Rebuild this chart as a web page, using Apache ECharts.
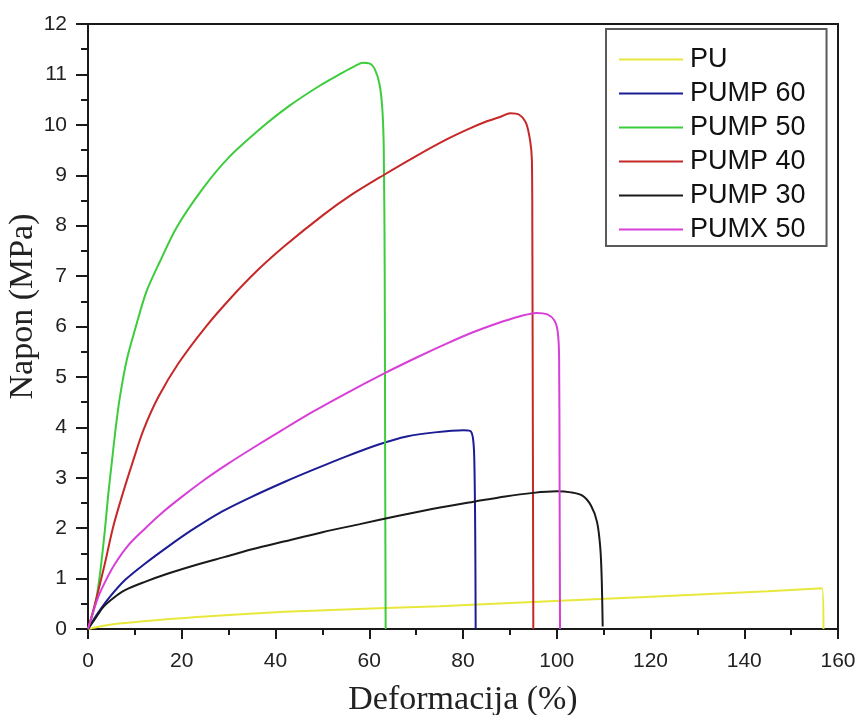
<!DOCTYPE html>
<html>
<head>
<meta charset="utf-8">
<script src="https://cdn.jsdelivr.net/npm/echarts@6/dist/echarts.min.js"></script>
<style>
  html, body { margin: 0; padding: 0; background: #ffffff; }
  #chart { width: 859px; height: 715px; }
</style>
</head>
<body>
<div id="chart"></div>
<script>
// Stress–strain curves: strain (%) and stress (MPa) for each sample
const seriesNames = ['PU', 'PUMP 60', 'PUMP 50', 'PUMP 40', 'PUMP 30', 'PUMX 50'];

const strainPU = [0, 3, 6.5, 15, 25, 42, 62, 75, 100.7, 117.8, 129.2, 145, 156.6, 156.9];
const stressPU = [0, 0.06, 0.11, 0.18, 0.25, 0.34, 0.41, 0.45, 0.56, 0.63, 0.68, 0.75, 0.81, 0];

const strainPUMP60 = [0, 2, 4.7, 8, 12.2, 17, 22.1, 28, 34.9, 42, 48.1, 55, 62, 68, 74, 80.1, 81.5, 82.1, 82.4, 82.6, 82.7];
const stressPUMP60 = [0, 0.3, 0.64, 0.98, 1.3, 1.63, 1.96, 2.3, 2.62, 2.92, 3.16, 3.42, 3.66, 3.82, 3.9, 3.94, 3.93, 3.8, 3.4, 2, 0];

const strainPUMP50 = [0, 1, 1.85, 2.7, 3.6, 4.3, 5.05, 5.9, 6.8, 8.3, 10, 12.5, 15.4, 19, 24.6, 30, 37.5, 43, 49.5, 54, 57, 58.7, 60, 61.2, 62.2, 62.8, 63.1, 63.3, 63.4, 63.5];
const stressPUMP50 = [0, 0.3, 0.64, 1.2, 1.96, 2.65, 3.28, 3.98, 4.6, 5.35, 5.93, 6.7, 7.3, 7.98, 8.75, 9.35, 9.98, 10.38, 10.78, 11.02, 11.17, 11.23, 11.22, 11.1, 10.8, 10.3, 9.5, 7, 3, 0];

const strainPUMP40 = [0, 1.5, 3.6, 5.3, 7.2, 9.5, 11.8, 15, 19.3, 25, 30.7, 36, 42, 50, 56, 63, 70, 76.5, 81, 85.1, 88, 90.1, 92, 93.4, 94.3, 94.7, 94.8, 94.9, 95];
const stressPUMP40 = [0, 0.5, 1.3, 2.0, 2.62, 3.3, 3.94, 4.6, 5.27, 5.98, 6.59, 7.1, 7.6, 8.2, 8.6, 9.0, 9.38, 9.71, 9.91, 10.07, 10.16, 10.23, 10.2, 10.05, 9.7, 9.3, 7.6, 4, 0];

const strainPUMP30 = [0, 1.5, 3.3, 5.5, 7.9, 12, 17.1, 23, 29.2, 35, 42, 50, 58, 66, 75.1, 82.6, 89, 95, 100, 103, 105.4, 107.3, 108.6, 109.3, 109.6, 109.8];
const stressPUMP30 = [0, 0.2, 0.44, 0.62, 0.77, 0.93, 1.1, 1.27, 1.43, 1.58, 1.74, 1.92, 2.08, 2.24, 2.41, 2.53, 2.63, 2.7, 2.73, 2.71, 2.65, 2.45, 2.12, 1.6, 0.97, 0.05];

const strainPUMX50 = [0, 2.2, 4, 5.8, 8.5, 11.8, 16, 20, 25, 29.9, 35, 41.5, 48, 55, 63, 70, 76.5, 82, 87.2, 92, 95.7, 98, 99.5, 100.2, 100.5, 100.6, 100.7];
const stressPUMX50 = [0, 0.64, 1.0, 1.3, 1.65, 1.96, 2.32, 2.62, 2.97, 3.28, 3.58, 3.95, 4.31, 4.67, 5.06, 5.38, 5.66, 5.88, 6.06, 6.2, 6.27, 6.24, 6.12, 5.9, 5.4, 3, 0];

const xTicks = { min: 0, max: 160, interval: 20 };
const yTicks = { min: 0, max: 12, interval: 1 };

const curveColors = ['#e8e83c', '#1c1c94', '#3ccc3c', '#c62828', '#1a1a1a', '#d83fd8'];

function pairs(xs, ys) {
  return xs.map((x, i) => [x, ys[i]]);
}

const curveData = [
  pairs(strainPU, stressPU),
  pairs(strainPUMP60, stressPUMP60),
  pairs(strainPUMP50, stressPUMP50),
  pairs(strainPUMP40, stressPUMP40),
  pairs(strainPUMP30, stressPUMP30),
  pairs(strainPUMX50, stressPUMX50)
];

const sansFont = '"Liberation Sans", Arial, sans-serif';
const serifFont = '"Liberation Serif", "Times New Roman", serif';

const chart = echarts.init(document.getElementById('chart'), null, { renderer: 'canvas' });

chart.setOption({
  animation: false,
  backgroundColor: '#ffffff',
  grid: {
    left: 88, top: 24, right: 21, bottom: 86,
    outerBoundsMode: 'none',
    containLabel: false,
    show: true, borderColor: '#1a1a1a', borderWidth: 2,
    backgroundColor: 'transparent'
  },
  legend: {
    orient: 'vertical',
    left: 606, top: 29,
    padding: [17, 21, 3, 13],
    icon: 'rect',
    itemWidth: 64, itemHeight: 2, itemGap: 7,
    borderColor: '#5a5a5a', borderWidth: 2,
    textStyle: { fontFamily: sansFont, fontSize: 27, color: '#111', lineHeight: 24, padding: [0, 0, 0, 2] },
    data: seriesNames
  },
  xAxis: {
    type: 'value',
    min: xTicks.min, max: xTicks.max, interval: xTicks.interval,
    name: 'Deformacija (%)',
    nameLocation: 'middle', nameGap: 54,
    nameMoveOverlap: false,
    nameTextStyle: { fontFamily: serifFont, fontSize: 34, color: '#222' },
    axisLine: { show: true, onZero: false, lineStyle: { color: '#1a1a1a', width: 2 } },
    axisTick: { show: true, inside: false, length: 10, lineStyle: { color: '#1a1a1a', width: 2 } },
    minorTick: { show: true, splitNumber: 2, length: 6, lineStyle: { color: '#1a1a1a', width: 2 } },
    axisLabel: { fontFamily: sansFont, fontSize: 21, color: '#222', margin: 22 },
    splitLine: { show: false }
  },
  yAxis: {
    type: 'value',
    min: yTicks.min, max: yTicks.max, interval: yTicks.interval,
    name: 'Napon (MPa)',
    nameLocation: 'middle', nameGap: 48, nameRotate: 90,
    nameMoveOverlap: false,
    nameTextStyle: { fontFamily: serifFont, fontSize: 34, color: '#222', padding: [0, 0, 0, 40] },
    axisLine: { show: true, onZero: false, lineStyle: { color: '#1a1a1a', width: 2 } },
    axisTick: { show: true, inside: false, length: 12, lineStyle: { color: '#1a1a1a', width: 2 } },
    minorTick: { show: true, splitNumber: 2, length: 7, lineStyle: { color: '#1a1a1a', width: 2 } },
    axisLabel: { fontFamily: sansFont, fontSize: 21, color: '#222', margin: 21 },
    splitLine: { show: false }
  },
  series: seriesNames.map((name, i) => ({
    name: name,
    type: 'line',
    data: curveData[i],
    showSymbol: false,
    symbol: 'none',
    smooth: 0.3,
    lineStyle: { color: curveColors[i], width: 2 },
    itemStyle: { color: curveColors[i] },
    emphasis: { disabled: true }
  }))
});
</script>
</body>
</html>
